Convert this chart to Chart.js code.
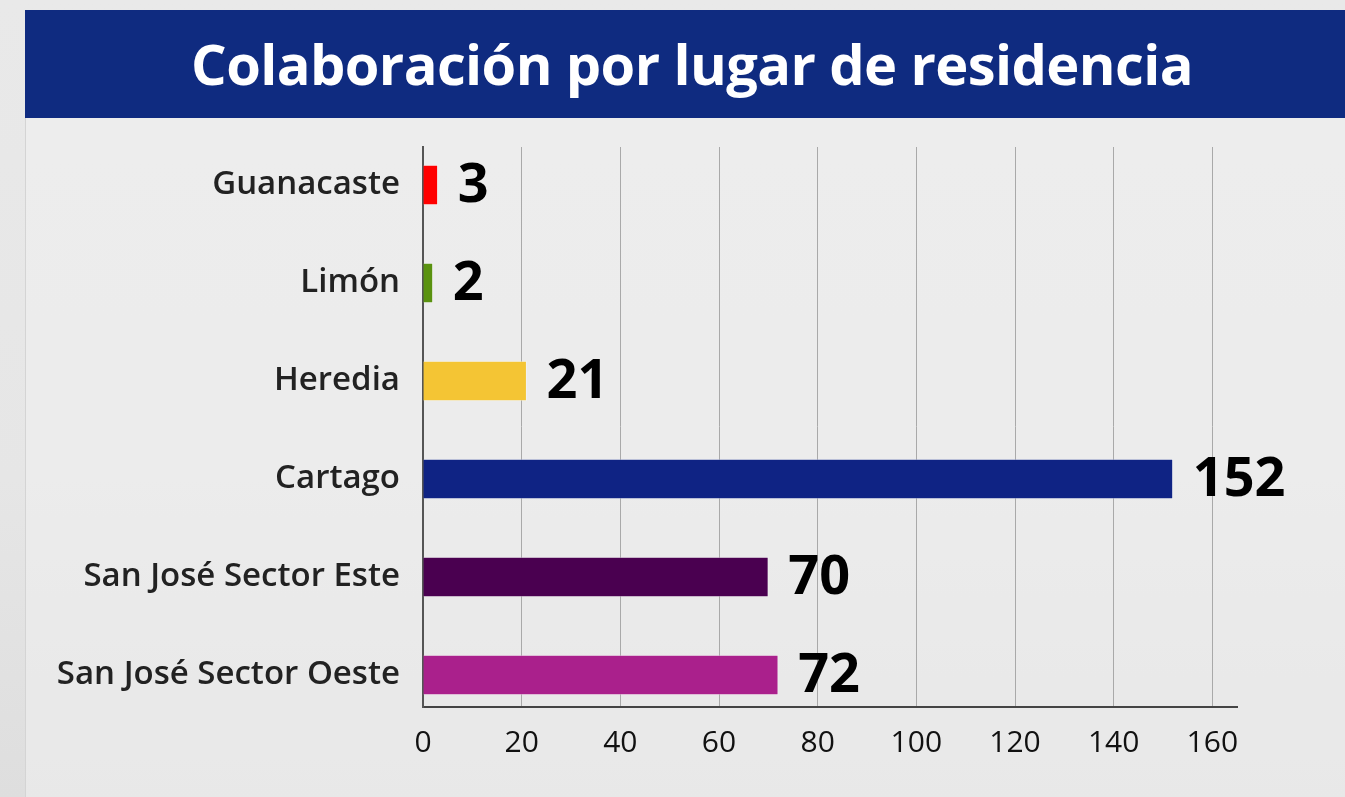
<!DOCTYPE html>
<html lang="es">

<head>
  <meta charset="UTF-8" />
  <title>Colaboración por lugar de residencia</title>
  <script src="https://cdn.jsdelivr.net/npm/chart.js@4.4.0/dist/chart.umd.min.js"></script>
  <style>
    html, body { margin: 0; padding: 0; }
    body {
      width: 1345px; height: 797px; overflow: hidden; position: relative;
      background: linear-gradient(180deg, #e9e9e9 0%, #e6e6e6 60%, #dedede 100%);
      font-family: "Open Sans", sans-serif;
    }
    .panel {
      position: absolute; left: 25px; top: 118px; right: 0; bottom: 0;
      background: rgba(240, 240, 240, 0.55);
      border-left: 1px solid #d4d4d4;
    }
    .banner {
      position: absolute; left: 25px; top: 10px; width: 1320px; height: 108px;
      background: #0f2b80; color: #fff;
      display: flex; align-items: center; justify-content: center;
      font-weight: 700; font-size: 56px; letter-spacing: -0.6px;
      z-index: 2;
    }
    .banner span { display: inline-block; margin-left: 14px; margin-top: -2px; }
    #wrap { position: absolute; left: 0; top: 0; width: 1345px; height: 797px; z-index: 1; }
  </style>
</head>

<body>
  <div class="panel"></div>
  <div class="banner"><span>Colaboración por lugar de residencia</span></div>
  <div id="wrap"><canvas id="residenciaChart"></canvas></div>

  <script>
    const lugares = [
      "Guanacaste",
      "Limón",
      "Heredia",
      "Cartago",
      "San José Sector Este",
      "San José Sector Oeste",
    ];
    const colaboradores = [3, 2, 21, 152, 70, 72];
    const colores = ["#ff0000", "#5a9210", "#f4c534", "#0f2384", "#4a0050", "#aa208c"];
    const xTicks = [0, 20, 40, 60, 80, 100, 120, 140, 160];

    // numbers written after each bar
    const valueLabels = {
      id: "valueLabels",
      afterDatasetsDraw(chart) {
        const ctx = chart.ctx;
        const meta = chart.getDatasetMeta(0);
        ctx.save();
        ctx.font = "700 54px 'Open Sans'";
        ctx.fillStyle = "#000";
        ctx.textAlign = "left";
        ctx.textBaseline = "middle";
        meta.data.forEach((bar, i) => {
          ctx.fillText(String(colaboradores[i]), bar.x + 20, bar.y + 2);
        });
        ctx.restore();
      },
    };

    const chart = new Chart(document.getElementById("residenciaChart").getContext("2d"), {
      type: "bar",
      data: {
        datasets: [
          {
            data: colaboradores.map((v, i) => ({ x: v, y: i })),
            backgroundColor: colores,
            borderColor: "rgba(255,255,255,0.35)",
            borderWidth: 1,
            barThickness: 40,
          },
        ],
      },
      options: {
        indexAxis: "y",
        responsive: false,
        animation: false,
        maintainAspectRatio: false,
        layout: { padding: { top: 147, right: 108, bottom: 0, left: 0 } },
        plugins: { legend: { display: false }, tooltip: { enabled: false } },
        scales: {
          x: {
            type: "linear",
            min: 0,
            max: 165,
            offset: false,
            ticks: {
              color: "#111",
              padding: 18,
              font: { family: "Open Sans", size: 30 },
            },
            afterBuildTicks(scale) {
              scale.ticks = xTicks.map((v) => ({ value: v }));
            },
            afterFit(scale) { scale.height = 90; },
            grid: { color: "#a9a9a9", lineWidth: 1, drawTicks: false },
            border: { color: "#444", width: 2 },
          },
          y: {
            type: "linear",
            reverse: true,
            offset: false,
            min: -0.388,
            max: 5.327,
            ticks: {
              color: "#222",
              padding: 23,
              font: { family: "Open Sans", size: 33, weight: "600" },
              callback: (v) => lugares[v],
            },
            afterBuildTicks(scale) {
              scale.ticks = lugares.map((l, i) => ({ value: i }));
            },
            afterFit(scale) { scale.width = 423; },
            grid: { display: false, drawTicks: false },
            border: { color: "#555", width: 2 },
          },
        },
      },
      plugins: [valueLabels],
    });
    chart.resize(1345, 797);
  </script>
</body>

</html>
